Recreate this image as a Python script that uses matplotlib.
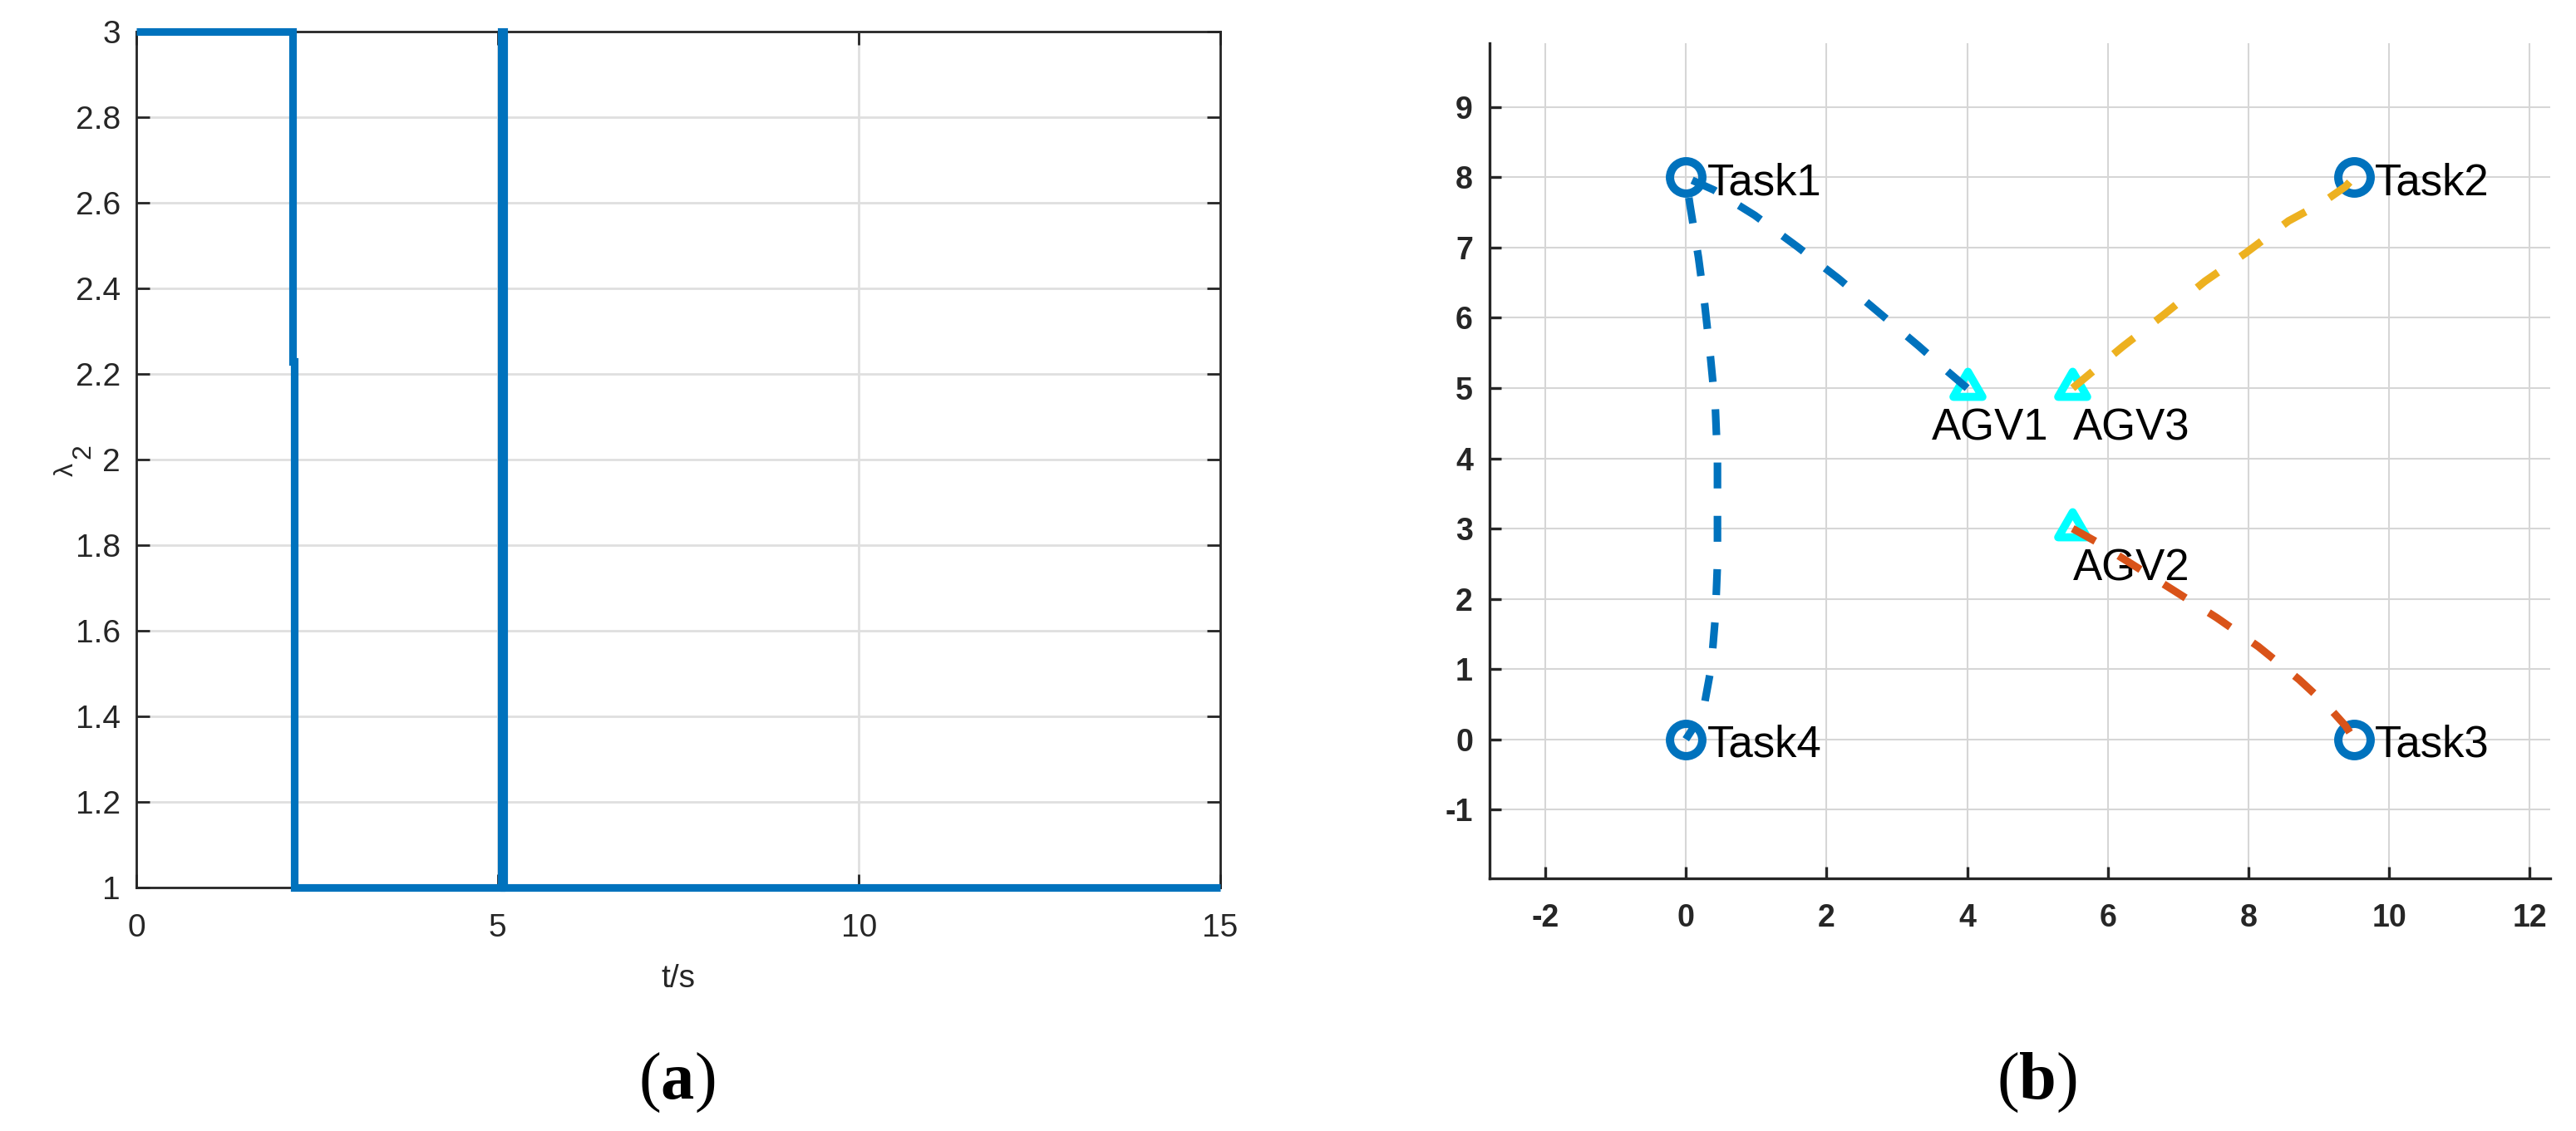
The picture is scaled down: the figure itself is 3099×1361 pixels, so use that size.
import matplotlib
matplotlib.use('Agg')
import matplotlib.pyplot as plt
from matplotlib.path import Path

plt.rcParams['font.family'] = ['Liberation Sans', 'DejaVu Sans']
plt.rcParams['mathtext.fontset'] = 'custom'
plt.rcParams['mathtext.rm'] = 'Liberation Sans'
plt.rcParams['mathtext.it'] = 'Liberation Sans'
plt.rcParams['mathtext.bf'] = 'Liberation Serif:bold'

# ---------------- data : panel (a) ----------------
t_vals = [0, 2.168, 2.168, 2.184, 2.184, 5.05, 5.05, 5.055, 5.055, 5.08, 5.08, 5.085, 5.085, 15]
lam_vals = [3, 3, 2.23, 2.23, 1, 1, 2.57, 2.57, 3, 3, 1.96, 1.96, 1, 1]
t_ticks = [0, 5, 10, 15]
t_tick_labels = ['0', '5', '10', '15']
lam_ticks = [1, 1.2, 1.4, 1.6, 1.8, 2, 2.2, 2.4, 2.6, 2.8, 3]
lam_tick_labels = ['1', '1.2', '1.4', '1.6', '1.8', '2', '2.2', '2.4', '2.6', '2.8', '3']

# ---------------- data : panel (b) ----------------
task_names = ['Task1', 'Task2', 'Task3', 'Task4']
task_x = [0, 9.5, 9.5, 0]
task_y = [8, 8, 0, 0]

agv_names = ['AGV1', 'AGV2', 'AGV3']
agv_x = [4, 5.5, 5.5]
agv_y = [5, 3, 5]
agv_label_x = [3.5, 5.5, 5.5]
agv_label_y = [4.5, 2.5, 4.5]

# AGV1 route: AGV1 -> Task1 -> Task4
path1_x = [4.0, 3.73, 3.31, 2.74, 2.17, 1.59, 0.98, 0.40, 0.0,
           0.06, 0.18, 0.27, 0.35, 0.42, 0.45, 0.45, 0.45, 0.42, 0.36, 0.23, 0.13, 0.0]
path1_y = [5.0, 5.23, 5.60, 6.08, 6.56, 7.01, 7.46, 7.82, 8.0,
           7.60, 6.86, 6.18, 5.45, 4.72, 3.98, 3.23, 2.50, 1.74, 1.02, 0.31, 0.20, 0.0]
# AGV2 route: AGV2 -> Task3
path2_x = [5.5, 5.84, 6.30, 6.92, 7.55, 8.14, 8.72, 9.12, 9.38, 9.5]
path2_y = [3.0, 2.81, 2.52, 2.13, 1.73, 1.32, 0.85, 0.48, 0.19, 0.0]
# AGV3 route: AGV3 -> Task2
path3_x = [5.5, 6.21, 6.79, 7.38, 7.97, 8.57, 9.05, 9.38, 9.5]
path3_y = [5.0, 5.59, 6.04, 6.52, 6.93, 7.38, 7.64, 7.87, 8.0]

x2_ticks = [-2, 0, 2, 4, 6, 8, 10, 12]
x2_tick_labels = ['-2', '0', '2', '4', '6', '8', '10', '12']
y2_ticks = [-1, 0, 1, 2, 3, 4, 5, 6, 7, 8, 9]
y2_tick_labels = ['-1', '0', '1', '2', '3', '4', '5', '6', '7', '8', '9']

# ---------------- styling ----------------
BLUE = '#0072BD'
ORANGE = '#D95319'
YELLOW = '#EDB120'
CYAN = '#00FFFF'
AX_COL = '#262626'
LW = 3.3

W, H, DPI = 3099, 1361, 200
fig = plt.figure(figsize=(W / DPI, H / DPI), dpi=DPI)

# ---------------- panel (a) ----------------
ax1 = fig.add_axes([164 / W, 1 - 1068 / H, 1304 / W, 1030 / H])
ax1.plot(t_vals, lam_vals, color=BLUE, lw=LW, clip_on=False, zorder=5,
         solid_joinstyle='miter', solid_capstyle='butt')
ax1.set_xlim(0, 15)
ax1.set_ylim(1, 3)
ax1.set_xticks(t_ticks)
ax1.set_xticklabels(t_tick_labels)
ax1.set_yticks(lam_ticks)
ax1.set_yticklabels(lam_tick_labels)
ax1.set_axisbelow(True)
ax1.grid(True, color='#DFDFDF', lw=1.0)
for s in ax1.spines.values():
    s.set_color(AX_COL)
    s.set_linewidth(1.0)
ax1.tick_params(axis='both', direction='in', top=True, right=True,
                length=5.8, width=1.0, color=AX_COL, labelcolor=AX_COL, labelsize=14)
ax1.tick_params(axis='x', pad=11)
ax1.tick_params(axis='y', pad=6.8)

fig.text(816 / W, 1 - 1188 / H, 't/s', ha='center', va='baseline', fontsize=14, color=AX_COL)
fig.text(80 / W, 1 - 565 / H, 'λ', rotation=90, ha='center', va='center', fontsize=11.5, color=AX_COL)
fig.text(100 / W, 1 - 543 / H, '2', rotation=90, ha='center', va='center', fontsize=11.5, color=AX_COL)

# ---------------- panel (b) ----------------
ax2 = fig.add_axes([1792 / W, 1 - 1057 / H, 1276 / W, 1005 / H])
ax2.set_xlim(-2.79, 12.29)
ax2.set_ylim(-1.98, 9.91)
ax2.set_xticks(x2_ticks)
ax2.set_xticklabels(x2_tick_labels)
ax2.set_yticks(y2_ticks)
ax2.set_yticklabels(y2_tick_labels)
ax2.set_axisbelow(True)
ax2.grid(True, color='#D6D6D6', lw=0.75)
ax2.spines['top'].set_visible(False)
ax2.spines['right'].set_visible(False)
for k in ('left', 'bottom'):
    ax2.spines[k].set_color(AX_COL)
    ax2.spines[k].set_linewidth(1.2)
ax2.tick_params(axis='both', direction='in', length=5.0, width=1.2,
                color=AX_COL, labelcolor=AX_COL, labelsize=13.5)
ax2.tick_params(axis='x', pad=10.8)
ax2.tick_params(axis='y', pad=7.2)
for lab in ax2.get_xticklabels() + ax2.get_yticklabels():
    lab.set_fontweight('bold')

tri = Path([(0, 1), (-0.866, -0.5), (0.866, -0.5), (0, 1)],
           [Path.MOVETO, Path.LINETO, Path.LINETO, Path.CLOSEPOLY])

ax2.plot(task_x, task_y, ls='none', marker='o', ms=14.0, mew=3.6,
         mfc='none', mec=BLUE, zorder=3, clip_on=False)
ax2.plot(agv_x, agv_y, ls='none', marker=tri, ms=14.5, mew=3.5,
         mfc='none', mec=CYAN, zorder=3, clip_on=False)

for name, x, y in zip(task_names, task_x, task_y):
    ax2.annotate(name, (x + 0.3, y), xytext=(0, -7.5), textcoords='offset points',
                 ha='left', va='baseline', fontsize=19, color='black', zorder=4)
for name, x, y in zip(agv_names, agv_label_x, agv_label_y):
    ax2.annotate(name, (x, y), xytext=(0, -7.4), textcoords='offset points',
                 ha='left', va='baseline', fontsize=19, color='black', zorder=4)

for px, py, col in ((path1_x, path1_y, BLUE), (path2_x, path2_y, ORANGE), (path3_x, path3_y, YELLOW)):
    ax2.plot(px, py, color=col, lw=LW, dashes=(3.4, 3.6), dash_capstyle='butt',
             dash_joinstyle='round', zorder=5)

# ---------------- captions ----------------
fig.text(814 / W, 1 - 1322 / H, r'($\mathbf{a}$)', family='Liberation Serif',
         ha='center', va='baseline', fontsize=29, color='black')
fig.text(2450 / W, 1 - 1322 / H, r'($\mathbf{b}$)', family='Liberation Serif',
         ha='center', va='baseline', fontsize=29, color='black')

fig.savefig('out.png', dpi=DPI, facecolor='white')
